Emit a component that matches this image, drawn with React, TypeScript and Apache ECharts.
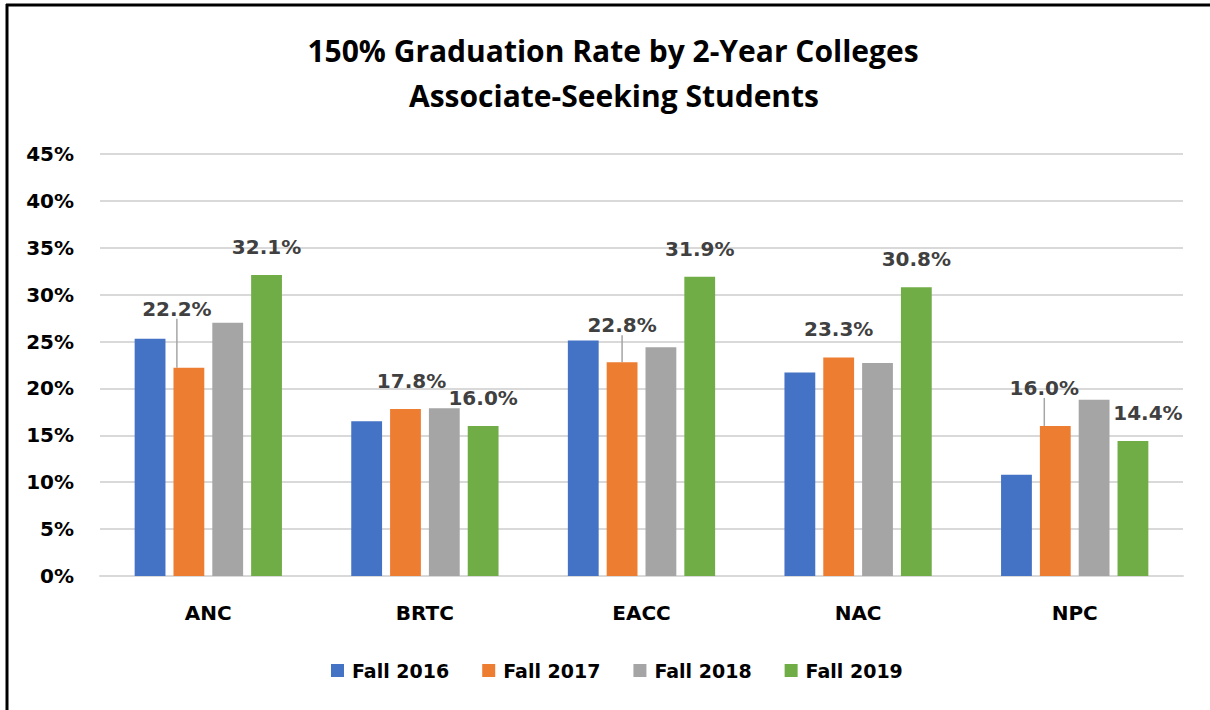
import React, { useEffect, useRef } from "react";
import * as echarts from "echarts";

const categories = ["ANC", "BRTC", "EACC", "NAC", "NPC"];
const seriesNames = ["Fall 2016", "Fall 2017", "Fall 2018", "Fall 2019"];
const fall2016 = [25.3, 16.5, 25.1, 21.7, 10.8];
const fall2017 = [22.2, 17.8, 22.8, 23.3, 16.0];
const fall2018 = [27.0, 17.9, 24.4, 22.7, 18.8];
const fall2019 = [32.1, 16.0, 31.9, 30.8, 14.4];
const yTicks = { min: 0, max: 45, interval: 5 };

const colors = ["#4472C4", "#ED7D31", "#A5A5A5", "#70AD47"];
// label displacement (style only) for the labelled series
const shift2017 = [[-12, -31], [6, 0], [0, -9], [0, 0], [-11, -10]];
const leader2017 = [true, false, true, false, true];
const shift2019 = [[0, 0], [0, 0], [0, 0], [0, 0], [15, 0]];

const FONT = "DejaVu Sans";

export default function App() {
  const ref = useRef<HTMLDivElement>(null);
  useEffect(() => {
    const chart = echarts.init(ref.current!, null, { renderer: "svg" });
    const labelStyle = {
      show: true,
      position: "top",
      distance: 18,
      color: "#404040",
      fontFamily: FONT,
      fontWeight: "bold",
      fontSize: 20,
      formatter: (p: any) => Number(p.value).toFixed(1) + "%",
    };
    const values = [fall2016, fall2017, fall2018, fall2019];
    const series = values.map((vals, si) => {
      const base: any = {
        name: seriesNames[si],
        type: "bar",
        barGap: "26%",
        barCategoryGap: "32%",
        itemStyle: { color: colors[si] },
        data: vals.map((v, i) => {
          if (si === 1) {
            return { value: v, labelLine: { show: leader2017[i] } };
          }
          return v;
        }),
      };
      if (si === 1 || si === 3) {
        base.label = labelStyle;
        const shifts = si === 1 ? shift2017 : shift2019;
        base.labelLayout = (params: any) => {
          const s = shifts[params.dataIndex];
          return { dx: s[0], dy: s[1] };
        };
        base.labelLine = {
          show: false,
          lineStyle: { color: "#A5A5A5", width: 1.5 },
        };
      }
      return base;
    });
    chart.setOption({
      animation: false,
      backgroundColor: "#ffffff",
      color: colors,
      grid: { left: 100, right: 27, top: 154, bottom: 134, containLabel: false },
      xAxis: {
        type: "category",
        data: categories,
        axisLine: { show: true, lineStyle: { color: "#D9D9D9", width: 2 } },
        axisTick: { show: false },
        axisLabel: {
          color: "#000000",
          fontFamily: FONT,
          fontWeight: "bold",
          fontSize: 20,
          margin: 27,
        },
      },
      yAxis: {
        type: "value",
        min: yTicks.min,
        max: yTicks.max,
        interval: yTicks.interval,
        axisLine: { show: false },
        axisTick: { show: false },
        splitLine: { lineStyle: { color: "#D9D9D9", width: 2 } },
        axisLabel: {
          color: "#000000",
          fontFamily: FONT,
          fontWeight: "bold",
          fontSize: 20,
          margin: 26,
          formatter: "{value}%",
        },
      },
      legend: {
        data: seriesNames,
        left: 326,
        top: 656,
        itemWidth: 13,
        itemHeight: 13,
        itemGap: 33,
        icon: "rect",
        textStyle: {
          color: "#000000",
          fontFamily: FONT,
          fontWeight: "bold",
          fontSize: 19,
          padding: [0, 0, 0, 3],
        },
      },
      graphic: [
        {
          type: "text",
          x: 613,
          y: 50,
          style: {
            text: "150% Graduation Rate by 2-Year Colleges",
            align: "center",
            verticalAlign: "middle",
            font: "bold 30px 'Open Sans'",
            fill: "#000000",
          },
        },
        {
          type: "text",
          x: 614,
          y: 95,
          style: {
            text: "Associate-Seeking Students",
            align: "center",
            verticalAlign: "middle",
            font: "bold 30px 'Open Sans'",
            fill: "#000000",
          },
        },
        {
          type: "line",
          shape: { x1: 6, y1: 5, x2: 1210, y2: 5 },
          style: { stroke: "#000000", lineWidth: 3 },
        },
        {
          type: "line",
          shape: { x1: 7, y1: 4, x2: 7, y2: 710 },
          style: { stroke: "#000000", lineWidth: 3 },
        },
      ],
      series,
    });
    return () => chart.dispose();
  }, []);
  return (
    <div
      ref={ref}
      style={{ position: "absolute", left: 0, top: 0, width: 1210, height: 710 }}
    />
  );
}
